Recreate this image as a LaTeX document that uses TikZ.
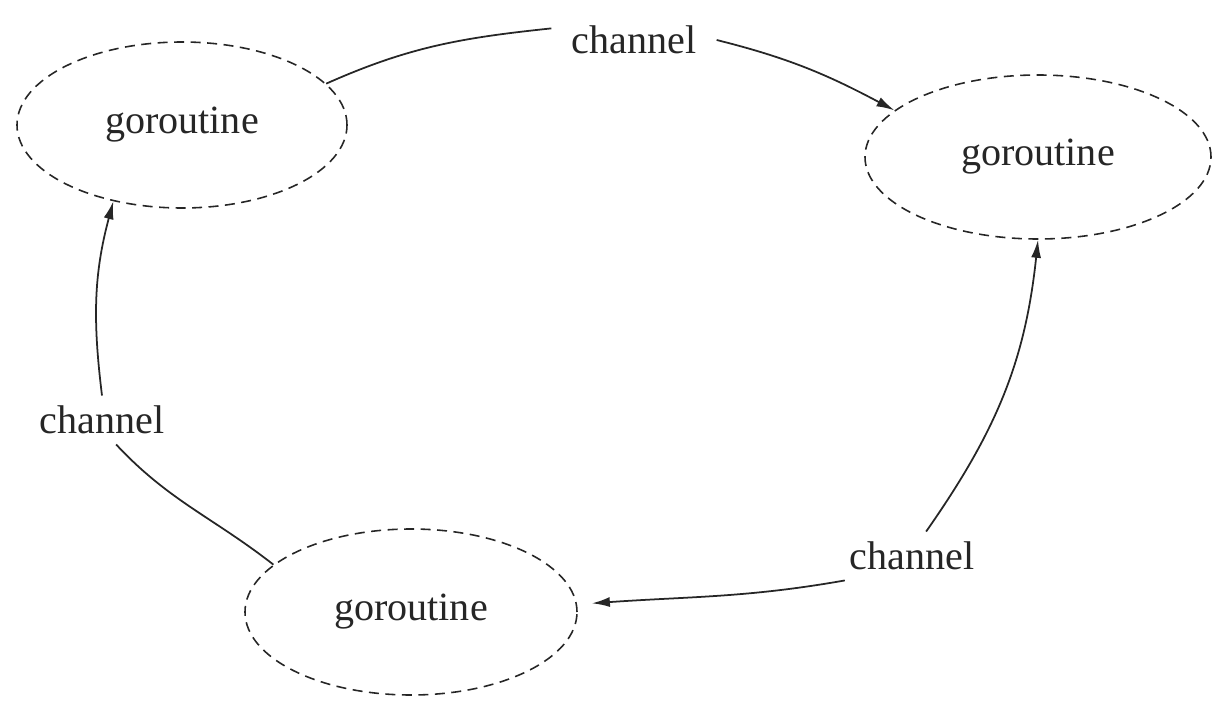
\documentclass[tikz,border=0pt]{standalone}
\usepackage{fontspec}
\setmainfont{Liberation Serif}
\usetikzlibrary{shapes.geometric,arrows.meta}

\begin{document}
\begin{tikzpicture}[x=0.2mm,y=0.2mm,
  goro/.style={ellipse,draw=black!85,dashed,dash pattern=on 2mm off 1.3mm,line width=0.9pt,inner sep=0pt},
  chan/.style={inner xsep=4mm,inner ysep=2mm},
  flow/.style={draw=black!85,line width=1pt},
  every node/.style={font=\fontsize{22.8}{27}\selectfont,text=black!85}]
\useasboundingbox (0,0) rectangle (1224,712);
% the three goroutines
\node [goro,minimum width=66mm,minimum height=33.2mm] (g1) at (182,587) {goroutine};
\node [goro,minimum width=69.2mm,minimum height=32.8mm] (g2) at (1038,555) {goroutine};
\node [goro,minimum width=66.4mm,minimum height=33.2mm] (g3) at (411,100) {goroutine};
% the channels
\node [chan] (ctop) at (634,672) {channel};
\node [chan] (cleft) at (102,292) {channel};
\node [chan] (cright) at (912,156) {channel};
% links
\draw [flow] (g1.16) to[out=24,in=186] (ctop.172);
\draw [flow,-{Latex[length=3.6mm,width=2mm]}] (ctop.east) to[out=-14,in=152] (g2.162);
\draw [flow,-{Latex[length=3.6mm,width=2mm]}] (cright.60) to[out=55,in=-96] (g2.south);
\draw [flow,-{Latex[length=3.6mm,width=2mm]}] (cright.200) to[out=190,in=4] ([xshift=3mm]g3.3);
\draw [flow] (g3.161) to[out=142,in=-47] (cleft.-60);
\draw [flow,-{Latex[length=3.6mm,width=2mm]}] (cleft.north) to[out=97,in=-105] (g1.228);
\end{tikzpicture}
\end{document}
